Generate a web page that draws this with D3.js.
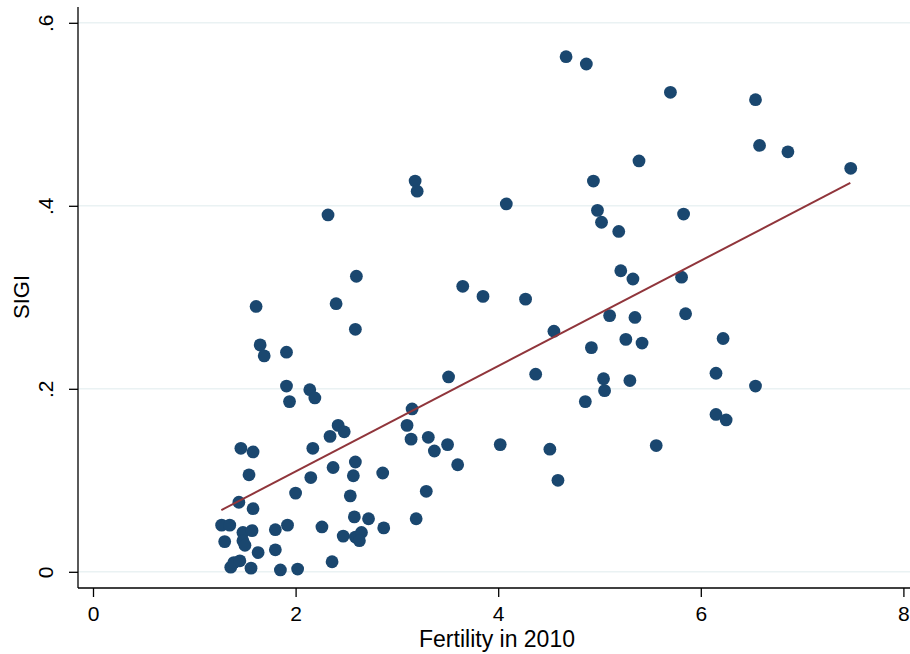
<!DOCTYPE html>
<html>
<head>
<meta charset="utf-8">
<script src="https://cdn.jsdelivr.net/npm/d3@7"></script>
<style>
  body { margin: 0; background: #fff; }
  svg { display: block; }
  text { font-family: "Liberation Sans", Arial, sans-serif; fill: #000; }
</style>
</head>
<body>
<svg id="vis" width="910" height="654"></svg>
<script>
// fertility in 2010 (x) and SIGI (y), one entry per country
const fertility = [
  4.67, 4.87, 5.70, 6.54, 6.58, 6.86, 7.48, 5.39, 4.94, 3.18,
  3.20, 4.08, 2.32, 4.98, 5.02, 5.19, 5.83, 5.21, 5.33, 3.65,
  3.85, 4.27, 5.81, 5.85, 5.10, 5.35, 4.55, 5.26, 5.42, 4.92,
  3.51, 4.37, 5.04, 5.30, 2.60, 2.40, 1.61, 2.59, 1.65, 1.69,
  1.91, 1.91, 2.14, 2.19, 1.94, 3.15, 3.10, 3.14, 3.31, 3.37,
  3.50, 2.42, 2.48, 2.34, 1.46, 1.58, 2.17, 1.54, 2.37, 2.59,
  2.57, 2.86, 2.15, 2.00, 1.44, 1.58, 3.29, 2.54, 1.27, 1.35,
  1.48, 1.57, 1.80, 1.92, 2.58, 2.72, 2.26, 2.87, 3.19, 1.30,
  1.48, 1.50, 2.47, 2.59, 2.65, 2.63, 1.63, 1.80, 2.36, 1.36,
  1.39, 1.45, 1.56, 1.85, 2.02, 3.60, 4.02, 4.51, 4.59, 5.56,
  4.86, 5.05, 6.22, 6.15, 6.54, 6.15, 6.25
];
const sigi = [
  .563, .555, .524, .516, .466, .459, .441, .449, .427, .427,
  .416, .402, .390, .395, .382, .372, .391, .329, .320, .312,
  .301, .298, .322, .282, .280, .278, .263, .254, .250, .245,
  .213, .216, .211, .209, .323, .293, .290, .265, .248, .236,
  .240, .203, .199, .190, .186, .178, .160, .145, .147, .132,
  .139, .160, .153, .148, .135, .131, .135, .106, .114, .120,
  .105, .108, .103, .086, .076, .069, .088, .083, .051, .051,
  .043, .045, .046, .051, .060, .058, .049, .048, .058, .033,
  .034, .029, .039, .038, .043, .034, .021, .024, .011, .005,
  .010, .012, .004, .002, .003, .117, .139, .134, .100, .138,
  .186, .198, .255, .217, .203, .172, .166
];

// fitted line endpoints
const fitX = [1.267, 7.476];
const fitY = [0.0675, 0.425];

const xTicks = [0, 2, 4, 6, 8];
const yTicks = [0, 0.2, 0.4, 0.6];
const yTickLabels = ["0", ".2", ".4", ".6"];

const svg = d3.select("#vis");
const plot = { left: 78, right: 910, top: 7, bottom: 588 };

const x = d3.scaleLinear().domain([0, 8]).range([93, 903.4]);
const y = d3.scaleLinear().domain([0, 0.6]).range([571.8, 22.8]);

// grid
svg.append("g")
  .selectAll("line")
  .data(yTicks)
  .join("line")
  .attr("x1", plot.left)
  .attr("x2", plot.right)
  .attr("y1", d => y(d))
  .attr("y2", d => y(d))
  .attr("stroke", "#eaf2f3")
  .attr("stroke-width", 1.6);

// y axis
const yAxis = svg.append("g")
  .attr("transform", `translate(${plot.left},0)`)
  .call(d3.axisLeft(y).tickValues(yTicks).tickSize(9)
    .tickFormat((d, i) => yTickLabels[i]));
yAxis.select(".domain").remove();
yAxis.selectAll(".tick line").attr("stroke", "#000").attr("stroke-width", 1.3);
yAxis.selectAll(".tick text")
  .attr("x", null).attr("dy", null)
  .attr("text-anchor", "middle")
  .attr("transform", "translate(-25,0) rotate(-90)")
  .style("font-size", "21px")
  .style("font-family", "'Liberation Sans', Arial, sans-serif");

// x axis
const xAxis = svg.append("g")
  .attr("transform", `translate(0,${plot.bottom})`)
  .call(d3.axisBottom(x).tickValues(xTicks).tickSize(9)
    .tickFormat(d3.format("d")));
xAxis.select(".domain").remove();
xAxis.selectAll(".tick line").attr("stroke", "#000").attr("stroke-width", 1.3);
xAxis.selectAll(".tick text")
  .attr("y", 33).attr("dy", null)
  .style("font-size", "21px")
  .style("font-family", "'Liberation Sans', Arial, sans-serif");

// axis lines
svg.append("line")
  .attr("x1", plot.left).attr("x2", plot.left)
  .attr("y1", plot.top).attr("y2", plot.bottom)
  .attr("stroke", "#000").attr("stroke-width", 1.3);
svg.append("line")
  .attr("x1", plot.left).attr("x2", plot.right)
  .attr("y1", plot.bottom).attr("y2", plot.bottom)
  .attr("stroke", "#000").attr("stroke-width", 1.3);

// points
svg.append("g")
  .selectAll("circle")
  .data(fertility.map((f, i) => [f, sigi[i]]))
  .join("circle")
  .attr("cx", d => x(d[0]))
  .attr("cy", d => y(d[1]))
  .attr("r", 6.4)
  .attr("fill", "#1a476f");

// fit line
const line = d3.line().x(d => x(d[0])).y(d => y(d[1]));
svg.append("path")
  .datum(fitX.map((v, i) => [v, fitY[i]]))
  .attr("fill", "none")
  .attr("stroke", "#90353b")
  .attr("stroke-width", 2)
  .attr("d", line);

// titles
svg.append("text")
  .attr("x", 497)
  .attr("y", 647)
  .attr("text-anchor", "middle")
  .style("font-size", "23px")
  .text("Fertility in 2010");

svg.append("text")
  .attr("transform", "translate(29,297) rotate(-90)")
  .attr("text-anchor", "middle")
  .style("font-size", "22px")
  .text("SIGI");
</script>
</body>
</html>
